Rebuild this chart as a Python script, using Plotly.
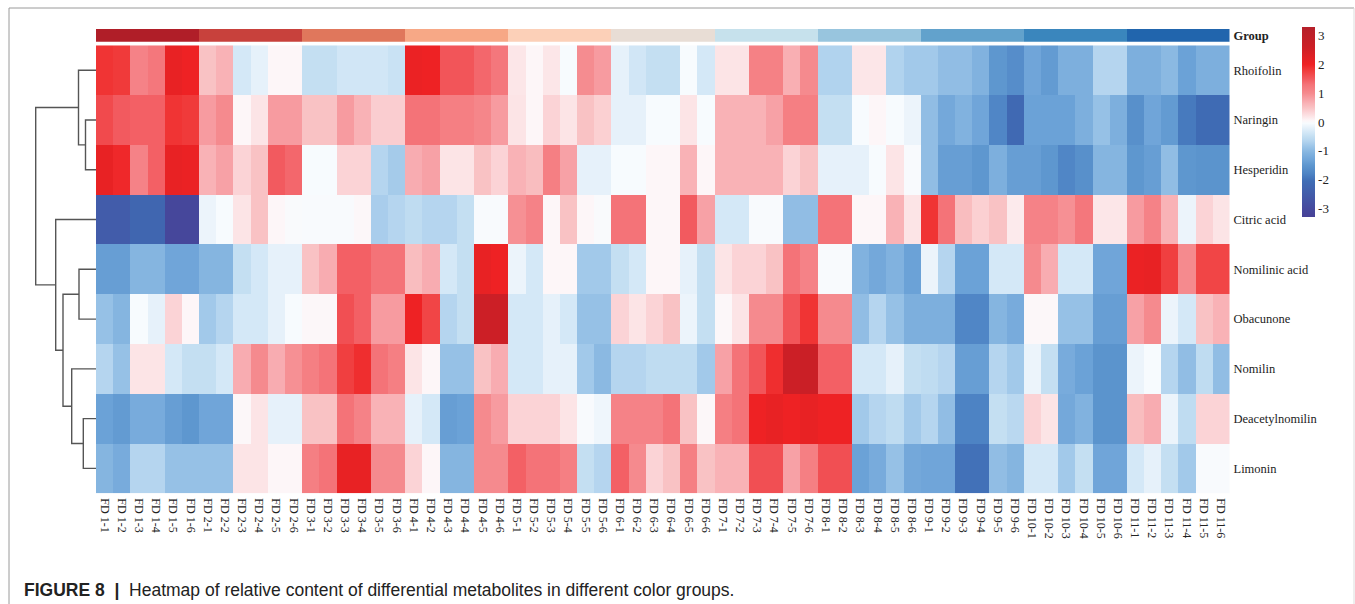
import plotly.graph_objects as go

W, H = 1355, 604

metabolites = ["Rhoifolin", "Naringin", "Hesperidin", "Citric acid", "Nomilinic acid",
               "Obacunone", "Nomilin", "Deacetylnomilin", "Limonin"]
samples = [f"FD {g}-{r}" for g in range(1, 12) for r in range(1, 7)]
group_ids = [g for g in range(11) for _ in range(6)]
group_colors = ["#b01e28", "#c8413c", "#e0775c", "#f7a886", "#fcd0b8", "#e8ddd5",
                "#c6e1ec", "#98c5de", "#62a2cc", "#3a86bd", "#2165ad"]

rhoifolin = [1.85,1.8,1.1,1.25,2.1,2.0, .5,.65,-.35,-.2,.05,.05, -.5,-.5,-.38,-.38,-.38,-.45,
             2.05,2.0,1.55,1.55,1.4,1.25, .18,.05,.18,-.05,.98,.85, -.2,-.38,-.5,-.5,-.05,-.35,
             .2,.2,1.12,1.12,.68,1.0, -.68,-.68,.18,.18,-.68,-.8, -.8,-.95,-.95,-1.1,-1.5,-1.65,
             -1.3,-1.45,-1.15,-1.15,-.65,-.65, -1.15,-1.15,-1.0,-1.35,-1.15,-1.15]
naringin = [1.65,1.5,1.45,1.45,1.85,1.8, .85,1.0,.05,.2,.85,.85, .5,.5,.85,.65,.4,.4,
            1.3,1.3,1.15,1.15,1.05,.85, .2,.05,.35,.2,.5,.38, -.2,-.2,-.05,-.05,.2,-.05,
            .65,.65,.65,.8,1.15,1.15, -.5,-.5,-.05,.05,-.05,-.15, -.95,-1.25,-1.1,-1.3,-1.75,-2.15,
            -1.35,-1.35,-1.35,-1.15,-.9,-1.15, -1.6,-1.3,-1.45,-1.9,-2.1,-2.1]
hesperidin = [2.1,1.95,1.1,1.45,2.1,2.05, .65,.8,.35,.5,1.5,1.4, -.05,-.05,.35,.35,-.65,-.78,
              .7,.8,.2,.2,.5,.35, .65,.55,1.15,.8,-.2,-.2, -.05,-.05,.05,.05,.65,.05,
              .65,.65,.65,.65,.35,.5, -.2,-.2,-.2,-.05,.2,-.03, -.95,-1.4,-1.4,-1.5,-1.15,-1.4,
              -1.4,-1.5,-1.75,-1.6,-1.05,-1.05, -1.5,-1.4,-.95,-1.5,-1.55,-1.55]
citric_acid = [-2.5,-2.5,-2.25,-2.25,-3.1,-3.1, -.15,-.05,.2,.5,.05,-.02, -.03,-.03,-.03,.03,-.75,-.65,
               -.55,-.65,-.65,-.5,-.03,-.03, .95,1.1,.05,.5,.05,-.02, 1.3,1.3,.05,.05,1.5,.8,
               -.35,-.35,-.03,-.03,-.95,-.95, 1.3,1.3,.05,.05,.65,.2, 1.85,1.3,.55,.38,.5,.15,
               1.1,1.1,.95,1.25,.18,.18, .85,1.1,.65,-.15,.35,.2]
nomilinic_acid = [-1.4,-1.4,-1.05,-1.05,-1.3,-1.3, -1.05,-1.05,-.5,-.35,-.2,-.2, .5,.7,1.45,1.45,1.3,1.3,
                  .55,.7,-.35,-.5,2.1,2.0, -.15,-.35,.05,.05,-.8,-.8, -.5,-.35,.05,.05,-.2,-.5,
                  .2,.35,.35,.5,1.3,1.1, -.03,-.03,-1.1,-1.25,-1.1,-1.35, -.15,-.65,-1.35,-1.35,-.35,-.35,
                  1.0,.7,-.35,-.35,-1.3,-1.3, 2.05,2.1,1.75,1.0,1.7,1.7]
obacunone = [-.9,-1.05,-.05,-.2,.35,.05, -.8,-.65,-.35,-.35,-.2,-.05, .03,.03,1.6,1.45,.85,.85,
             2.0,1.7,-.65,-.5,2.6,2.6, -.35,-.35,-.2,-.35,-.9,-.9, .35,.2,.35,.5,-.15,-.5,
             .03,.2,1.0,1.0,1.55,1.85, 1.0,1.0,-.95,-.65,-.9,-1.15, -1.15,-1.15,-1.75,-1.75,-1.05,-1.2,
             .03,.03,-.9,-.9,-1.4,-1.4, .8,1.0,-.15,-.35,.5,.65]
nomilin = [-.65,-.9,.2,.2,-.35,-.5, -.5,-.35,.7,1.0,.7,.95, 1.15,1.3,1.75,1.9,1.3,1.15,
           .2,.05,-.9,-.9,.5,.7, -.35,-.35,-.2,-.2,-.8,-1.0, -.65,-.65,-.55,-.55,-.55,-.8,
           .8,1.3,1.55,1.9,2.6,2.65, 1.45,1.45,-.35,-.35,-.2,-.5, -.55,-.65,-1.4,-1.4,-.65,-.8,
           -.15,-.5,-1.2,-1.35,-1.55,-1.55, -.15,-.05,-.65,-.95,-.55,-.95]
deacetylnomilin = [-1.35,-1.45,-1.2,-1.2,-1.4,-1.5, -1.3,-1.3,.03,.2,-.2,-.2, .5,.5,1.3,1.1,.65,.65,
                   -.2,-.35,-1.4,-1.35,1.0,.85, .35,.35,.35,.2,-.03,-.12, 1.1,1.1,1.1,1.3,.5,.03,
                   1.15,1.3,2.0,2.1,2.0,2.1, 2.0,2.0,-.8,-.65,-.55,-.8, -.65,-.95,-1.8,-1.8,-.5,-.6,
                   .35,.2,-1.25,-1.1,-1.55,-1.55, .55,.7,-.15,-.55,.35,.35]
limonin = [-1.05,-1.2,-.65,-.65,-.9,-.9, -.9,-.9,.2,.2,.05,.05, 1.15,1.3,2.1,2.1,1.0,1.0,
           .35,.05,-1.05,-1.05,1.0,1.0, 1.45,1.3,1.3,1.15,-.5,-.65, 1.45,1.0,.35,.5,1.15,.5,
           .65,.65,1.6,1.6,.8,1.15, 1.6,1.6,-1.35,-1.2,-.9,-1.25, -1.3,-1.3,-2.0,-2.0,-.95,-1.05,
           -.35,-.35,-.8,-.5,-1.3,-1.3, -.35,-.2,-.5,-.8,-.03,-.03]
matrix = [rhoifolin, naringin, hesperidin, citric_acid, nomilinic_acid,
          obacunone, nomilin, deacetylnomilin, limonin]

color_stops = [(-3.3, "#464196"), (-3.0, "#464a9e"), (-2.05, "#3f6db5"), (-1.8, "#4d83c4"),
               (-1.5, "#5e97cf"), (-1.3, "#70a5d9"), (-1.05, "#85b5e0"), (-.85, "#9cc5e8"),
               (-.65, "#b5d5ef"), (-.5, "#c4dff2"), (-.35, "#d4e8f7"), (-.2, "#e6f1fa"),
               (-.05, "#f7fbfe"), (.05, "#fdf6f8"), (.2, "#fce4e6"), (.35, "#fbd3d6"),
               (.5, "#f9c2c4"), (.65, "#f9b2b6"), (.8, "#f7a1a6"), (1.0, "#f58a8e"),
               (1.3, "#f47378"), (1.5, "#f25a5f"), (1.8, "#f03a3a"), (2.0, "#ee2224"),
               (2.6, "#cc1f26"), (3.3, "#b5202a")]
zmin, zmax = -3.3, 3.3
colorscale = [[(v - zmin) / (zmax - zmin), c] for v, c in color_stops]

cbar_ticks = [3, 2, 1, 0, -1, -2, -3]
cbar_labels = ["3", "2", "1", "0", "-1", "-2", "-3"]

# row clustering: (distance, child, child); integers are row indices
tree = (6.03,
        (1.75, 0, (1.05, 1, 2)),
        (4.03, 3,
         (3.3, (1.7, 4, 5),
          (2.43, 6, (1.27, 7, 8)))))

dx, dy = [], []


def walk(node):
    if isinstance(node, int):
        return 0.0, float(node)
    h, a, b = node
    ha, ya = walk(a)
    hb, yb = walk(b)
    dx.extend([ha, h, h, hb, None])
    dy.extend([ya, ya, yb, yb, None])
    return h, (ya + yb) / 2


walk(tree)

serif = "Liberation Serif"
fig = go.Figure()
fig.add_trace(go.Heatmap(
    z=matrix, x=list(range(len(samples))), y=list(range(len(metabolites))),
    zmin=zmin, zmax=zmax, colorscale=colorscale, hoverongaps=False,
    colorbar=dict(x=1302 / W, xanchor="left", xpad=0, ypad=0, y=1 - 217 / H, yanchor="bottom",
                  len=190 / H, lenmode="fraction", thickness=12.5, thicknessmode="pixels",
                  outlinewidth=0, ticks="", tickvals=cbar_ticks, ticktext=cbar_labels,
                  ticklabelposition="outside",
                  tickfont=dict(family=serif, size=13, color="#222222")),
))
n_groups = len(group_colors)
group_scale = []
for i, c in enumerate(group_colors):
    group_scale += [[i / n_groups, c], [(i + 1) / n_groups, c]]
fig.add_trace(go.Heatmap(
    z=[group_ids], x=list(range(len(samples))), y=["Group"], zmin=0, zmax=n_groups - 1e-9,
    colorscale=group_scale, showscale=False, xaxis="x", yaxis="y2",
))
fig.add_trace(go.Scatter(x=dx, y=dy, mode="lines", xaxis="x3", yaxis="y",
                         line=dict(color="#555555", width=1.4), showlegend=False))

x_font = dict(family=serif, size=12, color="#222222")
y_font = dict(family=serif, size=12.5, color="#222222")
fig.update_layout(
    width=W, height=H, margin=dict(l=0, r=0, t=0, b=0), paper_bgcolor="white", plot_bgcolor="white",
    showlegend=False,
    xaxis=dict(domain=[96 / W, 1229.5 / W], range=[-.5, len(samples) - .5], tickmode="array",
               tickvals=list(range(len(samples))), ticktext=samples, tickangle=90, ticks="",
               tickfont=x_font, showgrid=False, zeroline=False, anchor="y", showline=False,
               ticklabelstandoff=4),
    yaxis=dict(domain=[1 - 493.3 / H, 1 - 45.3 / H], range=[len(metabolites) - .5, -.5],
               tickmode="array", tickvals=list(range(len(metabolites))), ticktext=metabolites,
               side="right", ticks="", tickfont=y_font, showgrid=False, zeroline=False,
               anchor="x", showline=False, ticklabelstandoff=3),
    yaxis2=dict(domain=[1 - 41.7 / H, 1 - 29 / H], side="right", ticks="", anchor="x",
                tickmode="array", tickvals=["Group"], ticktext=["<b>Group</b>"],
                tickfont=y_font, showgrid=False, zeroline=False, ticklabelstandoff=3),
    xaxis3=dict(domain=[30 / W, 96 / W], range=[6.6, 0], visible=False, anchor="y"),
    shapes=[
        dict(type="line", xref="paper", yref="paper", x0=9 / W, x1=9 / W, y0=0, y1=1 - 8 / H,
             line=dict(color="#9a9a9a", width=1)),
        dict(type="line", xref="paper", yref="paper", x0=9 / W, x1=1354 / W, y0=1 - 8 / H, y1=1 - 8 / H,
             line=dict(color="#9a9a9a", width=1)),
        dict(type="line", xref="paper", yref="paper", x0=1354 / W, x1=1354 / W, y0=0, y1=1 - 8 / H,
             line=dict(color="#dddddd", width=1)),
    ],
    annotations=[dict(
        xref="paper", yref="paper", x=22 / W, y=1 - 590 / H, xanchor="left", yanchor="middle",
        showarrow=False, align="left",
        text="<b>FIGURE 8  |</b>  Heatmap of relative content of differential metabolites in different color groups.",
        font=dict(family="Liberation Sans", size=17.5, color="#222222"),
    )],
)
fig.write_html("out.html", config={"displayModeBar": False},
               post_script="document.body.style.margin='0';")
